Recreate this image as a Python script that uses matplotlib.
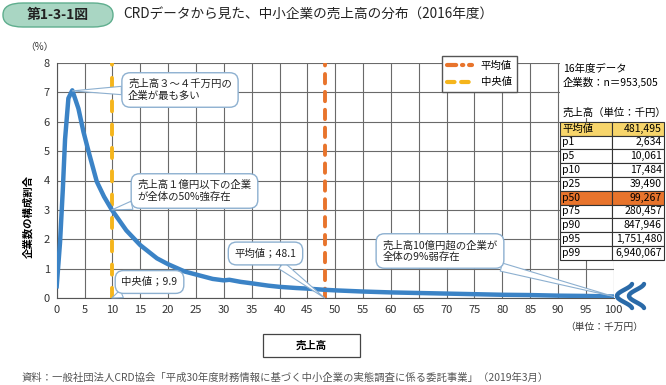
import numpy as np
import matplotlib
matplotlib.use("Agg")
import matplotlib.pyplot as plt
from matplotlib.lines import Line2D
from matplotlib.patches import Rectangle, FancyBboxPatch

plt.rcParams['font.family'] = ['Noto Sans CJK JP', 'DejaVu Sans']

# ---- data ----
sales = [0, 0.6, 1.1, 1.5, 2.1, 2.8, 3.9, 4.8, 5.9, 7.2, 8.5, 9.9, 12.5, 15, 18, 20, 23,
         25, 28, 30, 31, 33, 35, 38, 40, 43, 45, 48, 50, 55, 60, 65, 70, 75, 80, 85,
         90, 95, 100]
share = [0.4, 1.9, 3.7, 5.4, 6.8, 7.07, 6.45, 5.66, 4.86, 3.96, 3.45, 3.0, 2.3, 1.8, 1.35,
         1.15, 0.9, 0.8, 0.65, 0.6, 0.62, 0.55, 0.5, 0.42, 0.38, 0.34, 0.32, 0.28, 0.26,
         0.22, 0.19, 0.17, 0.15, 0.13, 0.11, 0.1, 0.08, 0.07, 0.05]
mean_val = 48.1
median_val = 9.9

table_labels = ['平均値', 'p1', 'p5', 'p10', 'p25', 'p50', 'p75', 'p90', 'p95', 'p99']
table_values = ['481,495', '2,634', '10,061', '17,484', '39,490', '99,267',
                '280,457', '847,946', '1,751,480', '6,940,067']

W, H = 666, 385
BLUE = '#3b83c6'
ORANGE = '#e8742c'
YELLOW = '#f5b51c'
EDGE = '#8db0d0'


def fp(x, y):
    # pixel position -> figure fraction
    return x / W, 1 - y / H


fig = plt.figure(figsize=(W / 100, H / 100), dpi=100)
ax = fig.add_axes([56.7 / W, 1 - 298 / H, (613.7 - 56.7) / W, (298 - 63) / H])

ax.set_xlim(0, 100)
ax.set_ylim(0, 8)
ax.set_xticks(np.arange(0, 101, 5))
ax.set_yticks(np.arange(0, 9, 1))
ax.grid(True, color='#6a6a6a', lw=0.8)
ax.set_axisbelow(True)
for s in ['top', 'right']:
    ax.spines[s].set_visible(False)
for s in ['left', 'bottom']:
    ax.spines[s].set_color('#555555')
ax.tick_params(length=0, labelsize=8, labelcolor='#333333', pad=5)

ax.axvline(median_val, color=YELLOW, lw=2.8, dashes=(2.6, 3.4), dash_capstyle='round', zorder=3)
ax.axvline(mean_val, color=ORANGE, lw=2.8, dashes=(2.4, 2.2), dash_capstyle='round', zorder=3)
ax.plot(sales, share, color=BLUE, lw=3.2, solid_joinstyle='round', zorder=4)

# callouts
callouts = [
    ('売上高３～４千万円の\n企業が最も多い', (2.8, 7.05), (180, 90)),
    ('売上高１億円以下の企業\nが全体の50%強存在', (median_val, 3.0), (194.5, 191)),
    ('中央値；9.9', (median_val, 0), (149.5, 282)),
    ('平均値；48.1', (mean_val, 0), (265.5, 253.5)),
    ('売上高10億円超の企業が\n全体の9%弱存在', (100, 0.05), (440, 251)),
]
for txt, xy, (bx, by) in callouts:
    ax.annotate(txt, xy=xy, xycoords='data', xytext=fp(bx, by), textcoords='figure fraction',
                ha='center', va='center', multialignment='left', fontsize=7.5, color='#222222',
                bbox=dict(boxstyle='round,pad=0.6,rounding_size=0.8', fc='white', ec=EDGE, lw=1.0),
                arrowprops=dict(arrowstyle='wedge,tail_width=0.8', fc='white', ec=EDGE, lw=0.8,
                                shrinkA=0, shrinkB=0),
                zorder=6, annotation_clip=False)

# legend
handles = [Line2D([], [], color=ORANGE, lw=3, dashes=(2.2, 1.4, 0.3, 1.4), dash_capstyle='round'),
           Line2D([], [], color=YELLOW, lw=3, dashes=(1.8, 1.6), dash_capstyle='round')]
fig.legend(handles, ['平均値', '中央値'], loc='center', bbox_to_anchor=fp(479.5, 74),
           fontsize=7.5, frameon=True, fancybox=False, edgecolor='#555555', framealpha=1,
           handlelength=2.4, labelspacing=0.6, borderpad=0.5, borderaxespad=0)

# table on the right
tx0, tx1, tx2 = 560, 612, 664
fig.patches.append(Rectangle(fp(tx0, 118), (tx2 - tx0 + 2) / W, 60 / H,
                             transform=fig.transFigure, fc='white', ec='none', zorder=5))
fig.patches.append(Rectangle(fp(tx0, 90), (tx2 - tx0 + 2) / W, 28 / H,
                             transform=fig.transFigure, fc='white', ec='none', zorder=5))
fig.text(*fp(563, 69), '16年度データ', fontsize=7.5, va='center', zorder=6)
fig.text(*fp(563, 82), '企業数：n＝953,505', fontsize=7.5, va='center', zorder=6)
fig.text(*fp(563, 113), '売上高（単位：千円）', fontsize=7.5, va='center', zorder=6)
row_h = 13.8
top = 121.7
for i, (lab, val) in enumerate(zip(table_labels, table_values)):
    y0 = top + i * row_h
    fc = '#f7d56b' if lab == '平均値' else (ORANGE if lab == 'p50' else 'white')
    for xa, xb in [(tx0, tx1), (tx1, tx2)]:
        fig.patches.append(Rectangle(fp(xa, y0 + row_h), (xb - xa) / W, row_h / H,
                                     transform=fig.transFigure, fc=fc, ec='#333333', lw=0.8,
                                     zorder=5))
    fig.text(*fp(tx0 + 2, y0 + row_h / 2), lab, fontsize=7.5, va='center', zorder=6)
    fig.text(*fp(tx2 - 2, y0 + row_h / 2), val, fontsize=7.5, va='center', ha='right', zorder=6)

# break mark at the end of the x axis
tt = np.linspace(0, 1, 40)
for off in (0, 12):
    xs = 626 + off + 6 * np.cos(2 * np.pi * tt) - 3 * np.sin(np.pi * tt)
    ys = 284 + 24 * tt
    fig.lines.append(Line2D(xs / W, 1 - ys / H, transform=fig.transFigure, color='#2a6aa8',
                            lw=3.2, solid_capstyle='round', zorder=6))

# labels and titles
fig.text(*fp(28, 217), '企業数の構成割合', rotation=90, fontsize=7.5, fontweight='bold',
         ha='center', va='center')
fig.text(*fp(39, 47), '（%）', fontsize=7, color='#333333', ha='center', va='center')
fig.text(*fp(604, 327), '（単位：千万円）', fontsize=7, color='#333333', ha='center', va='center')
fig.patches.append(Rectangle(fp(263, 357), 97 / W, 23 / H, transform=fig.transFigure,
                             fc='white', ec='#444444', lw=0.9))
fig.text(*fp(311.5, 345.5), '売上高', fontsize=7.5, fontweight='bold', ha='center', va='center')
fig.text(*fp(22, 378), '資料：一般社団法人CRD協会「平成30年度財務情報に基づく中小企業の実態調査に係る委託事業」（2019年3月）',
         fontsize=7.45, color='#555555', va='center')

fig.patches.append(FancyBboxPatch(fp(3, 27), 110 / W, 24 / H, transform=fig.transFigure,
                                  boxstyle='round,pad=0,rounding_size=0.03',
                                  fc='#a9d6c3', ec='#5fae8e', lw=1))
fig.text(*fp(58, 15), '第1-3-1図', fontsize=10, fontweight='bold', color='#222222',
         ha='center', va='center')
fig.text(*fp(123, 15), 'CRDデータから見た、中小企業の売上高の分布（2016年度）', fontsize=9.8,
         color='#222222', va='center')

fig.savefig('out.png', dpi=100)
